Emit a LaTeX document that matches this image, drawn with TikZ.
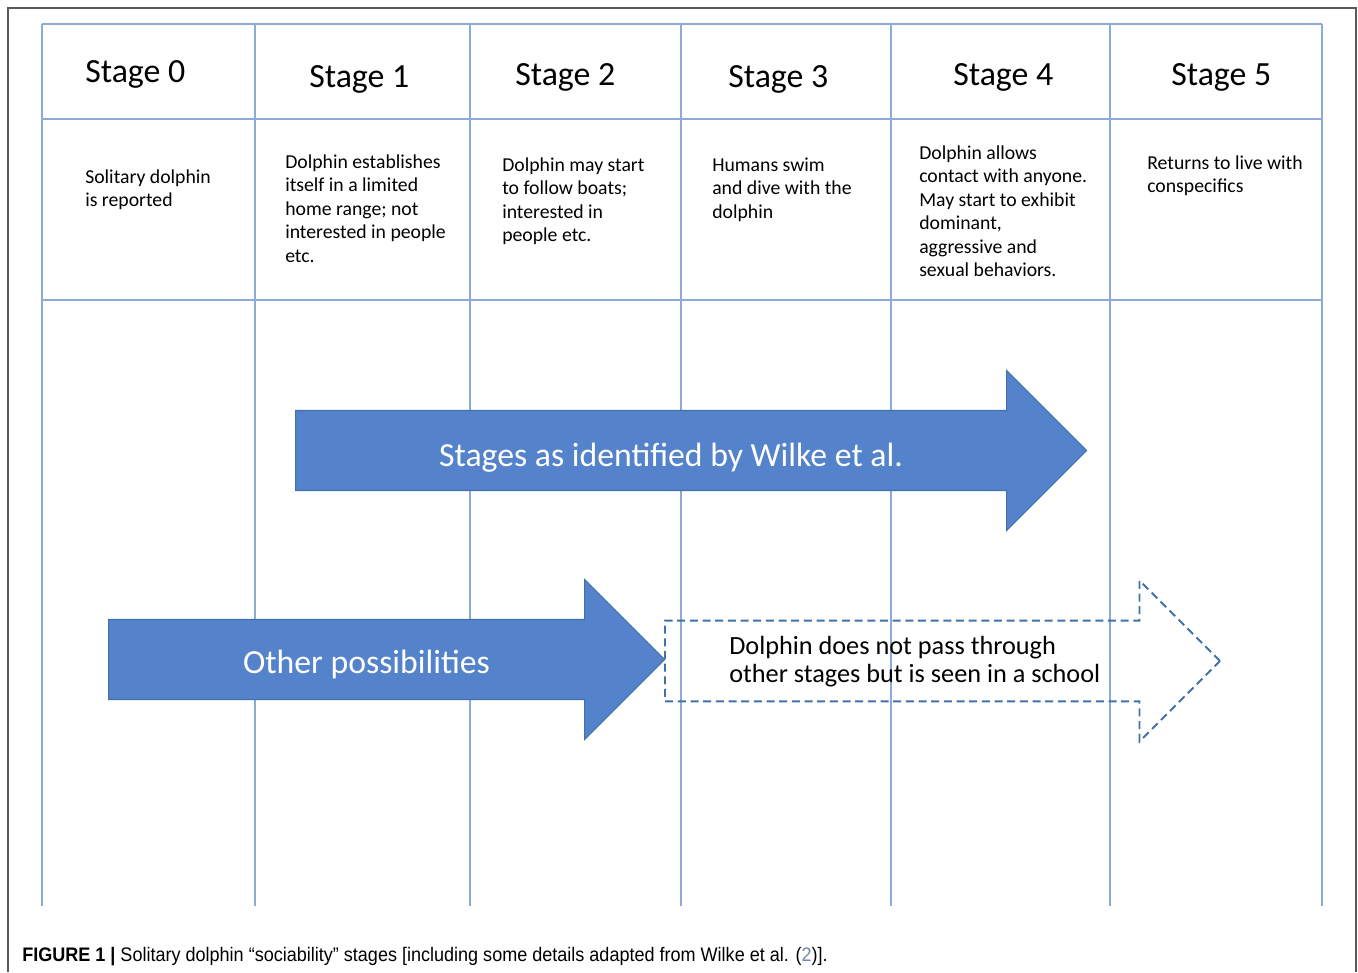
\documentclass[tikz,border=0pt]{standalone}
\usepackage{fontspec}
\setmainfont{Carlito}
\newfontfamily\capfont[FakeStretch=0.92]{Liberation Sans}
\usetikzlibrary{
  shapes.arrows,
  positioning
}
\definecolor{gridblue}{RGB}{142,170,219}
\definecolor{arrowblue}{RGB}{84,131,204}
\definecolor{arrowedge}{RGB}{65,113,170}
\definecolor{framegray}{RGB}{90,90,90}
\definecolor{refblue}{RGB}{110,135,180}

\begin{document}
\begin{tikzpicture}[
      x=0.75pt,y=-0.75pt,
      grid line/.style={
         draw=gridblue,
         line width=1.1pt
      },
      stage head/.style={
         anchor=base west,
         inner sep=0pt,
         font=\fontsize{25.4}{30}\selectfont
      },
      % anchored at the baseline of the last line
      stage text/.style={
         anchor=base west,
         inner sep=0pt,
         align=left,
         font=\fontsize{14.8}{17.6}\selectfont
      },
      big arrow/.style={
         single arrow,
         anchor=tail,
         inner xsep=0pt,
         inner ysep=29.6pt,
         single arrow head extend=30pt,
         minimum height=#1
      },
      solid arrow/.style={big arrow=#1,fill=arrowblue,draw=arrowedge,line width=0.8pt},
      open arrow/.style={big arrow=#1,draw=arrowedge,line width=1.4pt,dash pattern=on 6pt off 3.5pt},
      arrow text/.style={
         anchor=base,
         inner sep=0pt,
         text=white,
         font=\fontsize{25.3}{30}\selectfont
      }
    ]
    \useasboundingbox (0,0) rectangle (1358,972);
    \draw[framegray, line width=1.1pt] (8,972) -- (8,8) -- (1356,8) -- (1356,972);
    % table
    \draw[grid line] (42,24) -- (1322,24);
    \draw[grid line] (42,119) -- (1322,119);
    \draw[grid line] (42,300) -- (1322,300);
    \draw[grid line] (42,24) -- (42,906);
    \draw[grid line] (255,24) -- (255,906);
    \draw[grid line] (470,24) -- (470,906);
    \draw[grid line] (681,24) -- (681,906);
    \draw[grid line] (891,24) -- (891,906);
    \draw[grid line] (1110,24) -- (1110,906);
    \draw[grid line] (1322,24) -- (1322,906);
    \node (h0) [stage head] at (85,82) {Stage 0};
    \node (h1) [stage head] at (309,87) {Stage 1};
    \node (h2) [stage head] at (515,85) {Stage 2};
    \node (h3) [stage head] at (728,87) {Stage 3};
    \node (h4) [stage head] at (953,85) {Stage 4};
    \node (h5) [stage head] at (1171,85) {Stage 5};
    \node (d0) [stage text] at (85,206.5) {Solitary dolphin\\is reported};
    \node (d1) [stage text] at (285,262) {Dolphin establishes\\itself in a limited\\home range; not\\interested in people\\etc.};
    \node (d2) [stage text] at (502,241.5) {Dolphin may start\\to follow boats;\\interested in\\people etc.};
    \node (d3) [stage text] at (712,218) {Humans swim\\and dive with the\\dolphin};
    \node (d4) [stage text] at (919,276.5) {Dolphin allows\\contact with anyone.\\May start to exhibit\\dominant,\\aggressive and\\sexual behaviors.};
    \node (d5) [stage text] at (1147,192.5) {Returns to live with\\conspecifics};
    % arrows
    \node (wilke) [solid arrow=593.25pt] at (295,450.5) {};
    \node (other) [solid arrow=417pt] at (108,659.5) {};
    \node (school) [open arrow=416.25pt] at (664,661) {};
    \node (wilke text) [arrow text] at (671,466) {Stages as identified by Wilke et al.};
    \node (other text) [arrow text] at (366.5,673) {Other possibilities};
    \node (school text) [anchor=base west, align=left, inner sep=0pt,
       font=\fontsize{19.7}{21}\selectfont] at (729,682)
       {Dolphin does not pass through\\other stages but is seen in a school};
    % caption
    \node (caption) [anchor=base west, inner sep=0pt, font=\capfont\fontsize{14.7}{17}\selectfont] at (22,961)
       {\textbf{FIGURE 1 |} Solitary dolphin “sociability” stages [including some details adapted from Wilke et al. ({\color{refblue}2})].};
\end{tikzpicture}
\end{document}
